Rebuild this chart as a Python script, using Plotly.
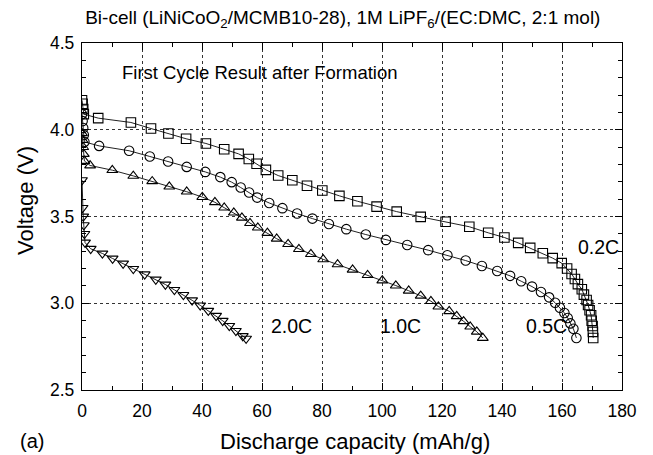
import plotly.graph_objects as go

# 0.2C (squares)
cap_02 = [0.0, 0.2, 0.4, 0.6, 5.4, 16.3, 23.0, 28.8, 34.7, 41.3, 47.4, 52.2, 55.6, 58.2,
          61.3, 65.4, 70.1, 75.0, 80.1, 85.8, 91.8, 98.2, 104.9, 112.9,
          121.2, 129.1, 135.4, 140.8, 145.4, 149.4, 153.6, 156.9, 159.9, 161.7, 163.2,
          164.3, 165.3, 166.6, 167.3, 168.2, 168.7, 169.2, 169.7, 169.9, 170.2, 170.3, 170.4]
v_02 = [4.17, 4.15, 4.12, 4.09, 4.067, 4.042, 4.007, 3.978, 3.948, 3.921, 3.888, 3.861, 3.831, 3.804,
        3.769, 3.736, 3.709, 3.677, 3.650, 3.619, 3.588, 3.557, 3.528, 3.498,
        3.470, 3.441, 3.406, 3.379, 3.348, 3.319, 3.288, 3.260, 3.231, 3.200, 3.169,
        3.140, 3.110, 3.081, 3.050, 3.019, 2.990, 2.960, 2.931, 2.899, 2.869, 2.835, 2.80]

# 0.5C (circles)
cap_05 = [0.0, 0.2, 0.4, 0.6, 0.8, 5.7, 15.7, 22.6, 28.7, 34.9, 41.1, 46.1, 49.9, 52.9, 55.7, 58.4,
          62.4, 66.8, 71.7, 76.8, 82.3, 88.1, 94.6, 101.3, 108.4, 115.4,
          121.8, 127.9, 133.3, 138.4, 142.7, 146.4, 150.0, 153.0, 155.7, 157.7, 159.3,
          160.8, 161.9, 162.8, 163.8, 164.8]
v_05 = [4.09, 4.05, 4.01, 3.97, 3.93, 3.907, 3.879, 3.846, 3.817, 3.786, 3.757, 3.727, 3.698, 3.667, 3.638, 3.609,
        3.578, 3.548, 3.517, 3.488, 3.457, 3.427, 3.396, 3.365, 3.336, 3.306,
        3.277, 3.246, 3.215, 3.186, 3.158, 3.127, 3.096, 3.065, 3.034, 3.003, 2.974,
        2.944, 2.915, 2.884, 2.853, 2.80]

# 1.0C (triangles up)
cap_10 = [0.0, 0.2, 0.4, 0.6, 0.8, 2.7, 10.1, 17.1, 23.4, 29.1, 34.9, 40.1, 44.3, 47.4, 50.6, 53.3, 56.0, 58.6,
          61.8, 64.9, 68.7, 72.3, 76.3, 80.4, 85.2, 90.2, 95.2, 100.1, 104.6, 108.9, 112.9, 116.3, 118.8,
          122.4, 124.9, 127.2, 129.4, 131.6, 133.6]
v_10 = [3.98, 3.94, 3.90, 3.86, 3.82, 3.794, 3.767, 3.734, 3.703, 3.672, 3.643, 3.612, 3.582, 3.551, 3.522, 3.493, 3.462, 3.436,
        3.405, 3.372, 3.341, 3.312, 3.283, 3.253, 3.224, 3.193, 3.162, 3.131, 3.102, 3.072, 3.043, 3.012, 2.981,
        2.954, 2.925, 2.896, 2.865, 2.836, 2.80]

# 2.0C (triangles down)
cap_20 = [0.0, 0.2, 0.4, 0.6, 0.8, 1.0, 2.9, 6.8, 10.2, 13.7, 17.1, 20.9, 24.6, 27.8, 30.8, 33.8, 36.7,
          39.4, 42.1, 44.7, 46.9, 49.1, 51.3, 53.6, 54.7]
v_20 = [3.71, 3.55, 3.50, 3.45, 3.40, 3.35, 3.314, 3.287, 3.258, 3.229, 3.198, 3.167, 3.137, 3.108, 3.077, 3.048, 3.017,
        2.988, 2.957, 2.928, 2.899, 2.870, 2.841, 2.811, 2.796]

series = [
    ("0.2C", cap_02, v_02, "square-open"),
    ("0.5C", cap_05, v_05, "circle-open"),
    ("1.0C", cap_10, v_10, "triangle-up-open"),
    ("2.0C", cap_20, v_20, "triangle-down-open"),
]

rate_labels = ["0.2C", "0.5C", "1.0C", "2.0C"]
label_x = [172, 154.7, 106.3, 69.7]
label_y = [3.325, 2.87, 2.87, 2.87]

fig = go.Figure()
for name, x, y, sym in series:
    fig.add_trace(go.Scatter(
        x=x, y=y, mode="lines+markers", name=name,
        line=dict(color="#222222", width=1),
        marker=dict(symbol=sym, size=9.5, color="black", line=dict(width=1.1, color="black")),
        showlegend=False,
    ))

font = "Liberation Sans, Arial, sans-serif"
axis_common = dict(
    showline=True, linecolor="black", linewidth=1.3, mirror="ticks",
    ticks="inside", ticklen=7, tickwidth=1.2, tickcolor="black",
    showgrid=True, gridcolor="#333333", griddash="dot", gridwidth=1,
    zeroline=False, tickfont=dict(family=font, size=17.5, color="black"),
)
fig.update_xaxes(range=[0, 180], dtick=20, tick0=0, ticklabelstandoff=5,
                 minor=dict(ticks="inside", dtick=10, ticklen=4, tickcolor="black", showgrid=False),
                 **axis_common)
fig.update_yaxes(range=[2.5, 4.5], dtick=0.5, tick0=2.5, tickformat=".1f", ticklabelstandoff=3,
                 minor=dict(ticks="inside", dtick=0.1, ticklen=4, tickcolor="black", showgrid=False),
                 **axis_common)

fig.add_annotation(x=12.7, y=4.33, xref="x", yref="y", text="First Cycle Result after Formation",
                   showarrow=False, xanchor="left", font=dict(family=font, size=18.5, color="black"))
for txt, xx, yy in zip(rate_labels, label_x, label_y):
    fig.add_annotation(x=xx, y=yy, xref="x", yref="y", text=txt, showarrow=False,
                       font=dict(family=font, size=19.5, color="black"))

# axis titles and panel label
fig.add_annotation(x=-0.1037, y=0.545, xref="paper", yref="paper", text="Voltage (V)", textangle=-90,
                   showarrow=False, xanchor="center", yanchor="middle",
                   font=dict(family=font, size=22, color="black"))
fig.add_annotation(x=0.505, y=-0.147, xref="paper", yref="paper", text="Discharge capacity (mAh/g)",
                   showarrow=False, xanchor="center", yanchor="middle",
                   font=dict(family=font, size=22, color="black"))
fig.add_annotation(x=-0.118, y=-0.147, xref="paper", yref="paper", text="(a)", showarrow=False,
                   xanchor="left", yanchor="middle", font=dict(family=font, size=20, color="black"))

fig.update_layout(
    width=653, height=455,
    margin=dict(l=82, r=31, t=43, b=65),
    paper_bgcolor="white", plot_bgcolor="white",
    title=dict(text="Bi-cell (LiNiCoO<sub>2</sub>/MCMB10-28), 1M LiPF<sub>6</sub>/(EC:DMC, 2:1 mol)",
               x=0.525, xanchor="center", y=0.962, yanchor="middle",
               font=dict(family=font, size=19, color="black")),
)

fig.write_html("out.html")
